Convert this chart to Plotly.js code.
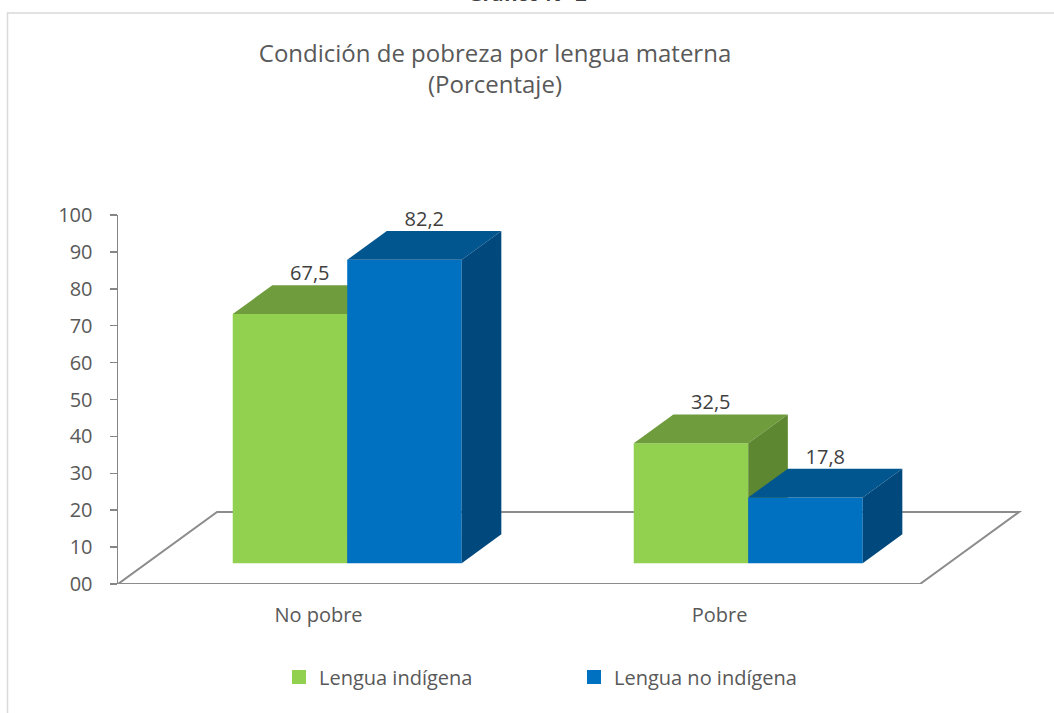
<!DOCTYPE html>
<html>
<head>
<meta charset="utf-8">
<script src="https://cdn.plot.ly/plotly-3.0.1.min.js"></script>
<style>html,body{margin:0;padding:0;background:#fff;}</style>
</head>
<body>
<div id="chart" style="width:1054px;height:713px;"></div>
<script>
// ---- data ----
const categories = ["No pobre", "Pobre"];
const seriesNames = ["Lengua indígena", "Lengua no indígena"];
const indigena = [67.5, 32.5];
const noIndigena = [82.2, 17.8];
const yTickVals = [0, 10, 20, 30, 40, 50, 60, 70, 80, 90, 100];
const yTickText = ["00", "10", "20", "30", "40", "50", "60", "70", "80", "90", "100"];

// ---- styling / geometry ----
const frontColors = ["#92D050", "#0070C0"];
const topColors = ["#6F9C3C", "#02568F"];
const sideColors = ["#5E8731", "#01487C"];
const FONT = "Open Sans, sans-serif";
const FLOOR_DX = 0.247, FLOOR_DY = 19.5;   // floor depth offsets (axis units)
const FRONT_F = 0.29, BACK_F = 0.69;       // bar depth fractions within floor
const GROUP = 0.571;                       // group width per category
const W = GROUP / 2;

const dx1 = FLOOR_DX * FRONT_F, dy1 = FLOOR_DY * FRONT_F;
const ddx = FLOOR_DX * (BACK_F - FRONT_F), ddy = FLOOR_DY * (BACK_F - FRONT_F);

const allSeries = [indigena, noIndigena];
const traces = [];

categories.forEach((cat, i) => {
  const c = i + 0.5;
  allSeries.forEach((vals, s) => {
    const v = vals[i];
    const a = c - GROUP / 2 + s * W + dx1;
    const b = a + W;
    const base = dy1;
    const h = base + v;
    const common = {type: "scatter", mode: "lines", fill: "toself", line: {width: 0},
                    hoverinfo: "skip", showlegend: false, legendgroup: "s" + s};
    traces.push(Object.assign({}, common, {
      x: [a, b, b, a, a], y: [base, base, h, h, base], fillcolor: frontColors[s]}));
    traces.push(Object.assign({}, common, {
      x: [a, b, b + ddx, a + ddx, a], y: [h, h, h + ddy, h + ddy, h], fillcolor: topColors[s]}));
    traces.push(Object.assign({}, common, {
      x: [b, b + ddx, b + ddx, b, b], y: [base, base + ddy, h + ddy, h, base], fillcolor: sideColors[s]}));
  });
});

// value labels
allSeries.forEach((vals, s) => {
  traces.push({
    type: "scatter", mode: "text", showlegend: false, hoverinfo: "skip", cliponaxis: false,
    x: vals.map((v, i) => i + 0.5 - GROUP / 2 + s * W + dx1 + W / 2 + ddx / 2),
    y: vals.map(v => dy1 + v + ddy),
    text: vals.map(v => v.toFixed(1).replace(".", ",")),
    textposition: "top center",
    textfont: {family: FONT, size: 20, color: "#404040"}
  });
});

// legend entries
seriesNames.forEach((n, s) => {
  traces.push({type: "scatter", mode: "markers", x: [null], y: [null], name: n,
    legendgroup: "s" + s, marker: {symbol: "square", size: 14, color: frontColors[s]}});
});

const L = 118, T = 215, PW = 907, PH = 369;
const px2x = p => (p - L) / PW;
const py2y = p => (T + PH - p) / PH;

const layout = {
  width: 1054, height: 713,
  margin: {l: L, r: 1054 - L - PW, t: T, b: 713 - T - PH, pad: 0},
  paper_bgcolor: "#ffffff", plot_bgcolor: "rgba(0,0,0,0)",
  font: {family: FONT, color: "#595959"},
  title: {
    text: "Condición de pobreza por lengua materna<br>(Porcentaje)",
    font: {family: FONT, size: 24, color: "#595959"},
    xref: "container", yref: "container", x: 495 / 1054, xanchor: "center",
    y: 1 - 62 / 713, yanchor: "top"
  },
  xaxis: {
    range: [0, PW / 401], showgrid: false, zeroline: false, showline: false,
    tickvals: categories.map((c, i) => i + 0.5), ticktext: categories,
    ticks: "", tickfont: {family: FONT, size: 20, color: "#595959"},
    ticklabelstandoff: 17, fixedrange: true
  },
  yaxis: {
    range: [0, 100], showgrid: false, zeroline: false, showline: true,
    linecolor: "#868686", linewidth: 1.5,
    tickvals: yTickVals, ticktext: yTickText, ticks: "outside", ticklen: 7,
    tickcolor: "#868686", tickwidth: 1.5,
    tickfont: {family: FONT, size: 20, color: "#595959"},
    ticklabelstandoff: 13, fixedrange: true
  },
  showlegend: true,
  legend: {
    orientation: "h", x: px2x(279), xanchor: "left", y: py2y(677), yanchor: "middle",
    font: {family: FONT, size: 20, color: "#595959"},
    entrywidth: 250, entrywidthmode: "pixels", bgcolor: "rgba(0,0,0,0)"
  },
  shapes: [
    {type: "path", xref: "x", yref: "y", layer: "below",
     path: `M0,0 L2,0 L${2 + FLOOR_DX},${FLOOR_DY} L${FLOOR_DX},${FLOOR_DY} Z`,
     line: {color: "#8C8C8C", width: 2}, fillcolor: "rgba(0,0,0,0)"},
    {type: "rect", xref: "paper", yref: "paper", layer: "below",
     x0: px2x(7.5), x1: px2x(1080), y0: py2y(13), y1: py2y(740),
     line: {color: "#D9D9D9", width: 1.5}, fillcolor: "rgba(0,0,0,0)"}
  ],
  annotations: [
    {text: "<b>Gráfico N° 2</b>", xref: "paper", yref: "paper",
     x: px2x(527), y: py2y(9), xanchor: "center", yanchor: "bottom", showarrow: false,
     font: {family: FONT, size: 20, color: "#404040"}}
  ]
};

Plotly.newPlot("chart", traces, layout, {displayModeBar: false, staticPlot: true});
</script>
</body>
</html>
